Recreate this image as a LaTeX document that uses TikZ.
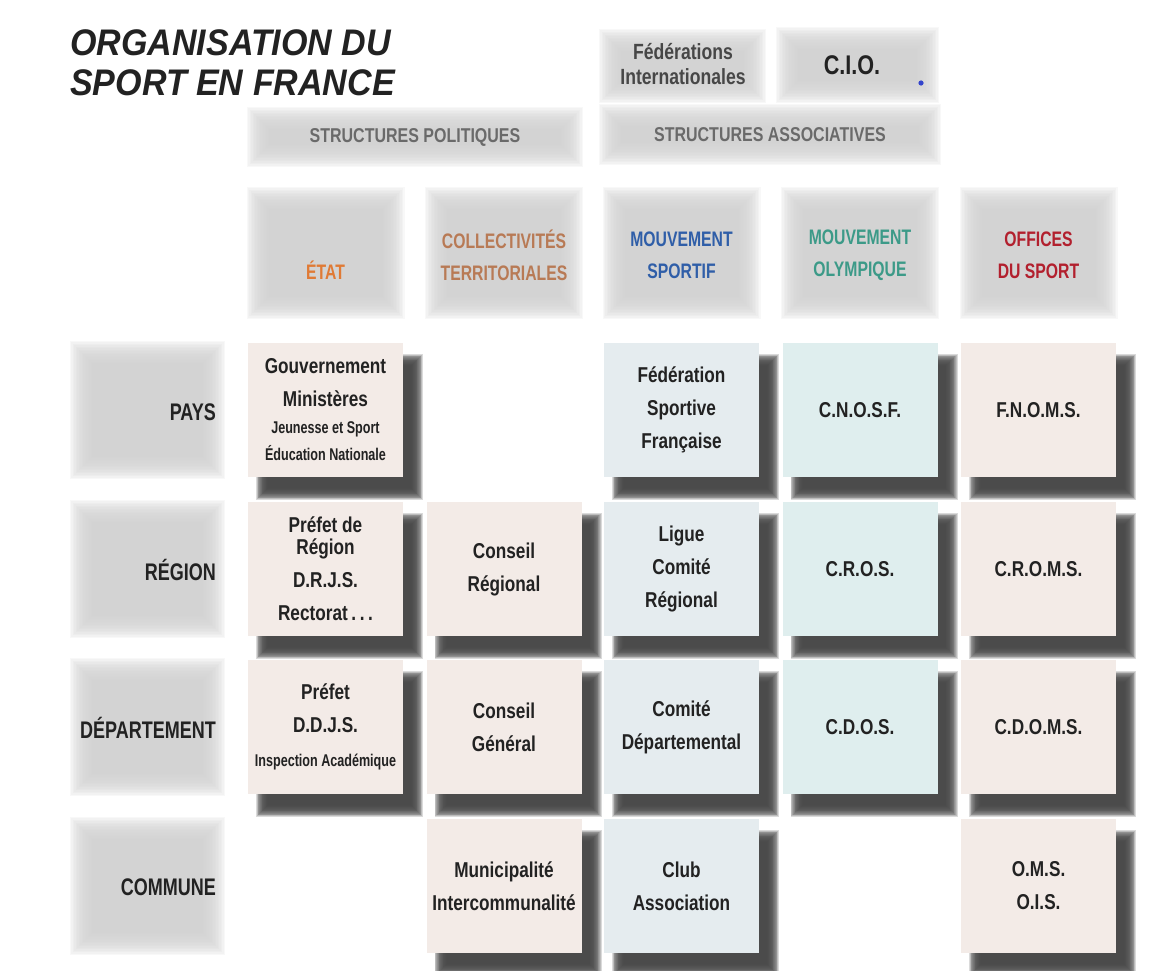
\documentclass[tikz,border=0pt]{standalone}
\usepackage{fontspec}
\setmainfont{Liberation Sans}
\newfontfamily\titlefont[FakeStretch=0.92]{Liberation Sans}
\newfontfamily\cnd[FakeStretch=0.8]{Liberation Sans}
\newfontfamily\cndx[FakeStretch=0.74]{Liberation Sans}
\newfontfamily\cndl[FakeStretch=0.75]{Liberation Sans}
\newcommand{\smalltxt}{\cndx\fontsize{17}{27}\selectfont}

\definecolor{pinkbox}{HTML}{F3EBE7}
\definecolor{bluebox}{HTML}{E5ECEF}
\definecolor{tealbox}{HTML}{DFEEEE}
\definecolor{shadowc}{HTML}{484848}
\definecolor{fogc}{HTML}{D2D2D2}
\definecolor{textdark}{HTML}{222222}
\definecolor{etatc}{HTML}{E07A35}
\definecolor{collc}{HTML}{B87A55}
\definecolor{sportc}{HTML}{2F5EA8}
\definecolor{olympc}{HTML}{3C9A88}
\definecolor{officec}{HTML}{B2202E}
\definecolor{structc}{HTML}{6A6A6A}
\definecolor{dotc}{HTML}{3344CC}

% soft-edged rectangle: x1 y1 x2 y2 colour half-blur opacity-per-layer
\newcommand{\fuzzy}[7]{%
  \foreach \k in {0,...,15}{%
    \pgfmathsetmacro{\blurd}{#6*(1-\k/7.5)}%
    \fill[#5, fill opacity=#7] ({#1-(\blurd)},{#2-(\blurd)}) rectangle ({#3+(\blurd)},{#4+(\blurd)});
  }}
\newcommand{\fog}[4]{\fuzzy{#1}{#2}{#3}{#4}{fogc}{11}{0.14}}
\newcommand{\cell}[5]{%
  \fuzzy{#2-77.5+14}{#3-67+17}{#2+77.5+14}{#3+67+17}{shadowc}{6}{0.2}
  \node[cellbox, fill=#4] (#1) at (#2,#3) {#5};
}

\tikzset{
  cellbox/.style={minimum width=155pt, minimum height=134pt, inner sep=0pt, align=center,
    text=textdark, font=\cnd\bfseries\fontsize{21.5}{33}\selectfont},
  rowlabel/.style={anchor=east, inner sep=0pt, text=textdark, font=\cndl\bfseries\fontsize{24}{28}\selectfont},
  colhead/.style={align=center, inner sep=0pt, font=\cndl\bfseries\fontsize{21}{32}\selectfont},
  structlabel/.style={inner sep=0pt, text=structc, font=\cnd\bfseries\fontsize{20}{24}\selectfont},
}

\begin{document}
\begin{tikzpicture}[x=1pt, y=-1pt]
\useasboundingbox (0,0) rectangle (1164,971);
\fill[white] (0,0) rectangle (1164,971);

% title
\node[anchor=north west, inner sep=0pt, align=left, text=textdark,
  font=\titlefont\bfseries\itshape\fontsize{37}{40}\selectfont] (title) at (70,29)
  {ORGANISATION DU\\SPORT EN FRANCE};

% international
\fog{610}{40}{755}{92}
\node[align=center, inner sep=0pt, text=black!72, font=\cnd\bfseries\fontsize{22}{25}\selectfont] (fi) at (683,64) {Fédérations\\Internationales};
\fog{787}{38}{928}{92}
\node[inner sep=0pt, text=textdark, font=\cnd\bfseries\fontsize{27}{30}\selectfont] (cio) at (852,65) {C.I.O.};
\fill[dotc] (921,83) circle (2.6);

% structures
\fog{258}{118}{572}{156}
\node[structlabel] (spol) at (415,137) {STRUCTURES POLITIQUES};
\fog{610}{115}{930}{154}
\node[structlabel] (sass) at (770,135) {STRUCTURES ASSOCIATIVES};

% column headers
\foreach \cx in {325.5,504,681.5,860,1038.5}{\fog{\cx-68}{198}{\cx+68}{308}}
\node[colhead, text=etatc, anchor=base] (hetat) at (325.5,279) {ÉTAT};
\node[colhead, text=collc] (hcoll) at (504,255) {COLLECTIVITÉS\\TERRITORIALES};
\node[colhead, text=sportc] (hsport) at (681.5,255) {MOUVEMENT\\SPORTIF};
\node[colhead, text=olympc] (holymp) at (860,255) {MOUVEMENT\\OLYMPIQUE};
\node[colhead, text=officec] (hoff) at (1038.5,255) {OFFICES\\DU SPORT};

% row headers
\foreach \cy in {410,569,727,886}{\fog{81}{\cy-58}{214}{\cy+58}}
\node[rowlabel] (lpays) at (216,412) {PAYS};
\node[rowlabel] (lregion) at (216,570) {RÉGION};
\node[rowlabel] (ldep) at (216,728) {DÉPARTEMENT};
\node[rowlabel] (lcom) at (216,887) {COMMUNE};

% cells - Etat
\cell{gouv}{325.5}{410}{pinkbox}{Gouvernement\\Ministères\\[-6pt]{\smalltxt Jeunesse et Sport}\\[-6pt]{\smalltxt Éducation Nationale}}
\cell{prefreg}{325.5}{569}{pinkbox}{Préfet de\\[-11pt]Région\\D.R.J.S.\\Rectorat\,.\,.\,.}
\cell{prefet}{325.5}{727}{pinkbox}{Préfet\\D.D.J.S.\\[1pt]{\smalltxt Inspection Académique}}
% Collectivites
\cell{consreg}{504}{569}{pinkbox}{Conseil\\Régional}
\cell{consgen}{504}{727}{pinkbox}{Conseil\\Général}
\cell{munic}{504}{886}{pinkbox}{Municipalité\\Intercommunalité}
% Mouvement sportif
\cell{ffs}{681.5}{410}{bluebox}{Fédération\\Sportive\\Française}
\cell{ligue}{681.5}{569}{bluebox}{Ligue\\Comité\\Régional}
\cell{comdep}{681.5}{727}{bluebox}{Comité\\Départemental}
\cell{club}{681.5}{886}{bluebox}{Club\\Association}
% Mouvement olympique
\cell{cnosf}{860}{410}{tealbox}{C.N.O.S.F.}
\cell{cros}{860}{569}{tealbox}{C.R.O.S.}
\cell{cdos}{860}{727}{tealbox}{C.D.O.S.}
% Offices
\cell{fnoms}{1038.5}{410}{pinkbox}{F.N.O.M.S.}
\cell{croms}{1038.5}{569}{pinkbox}{C.R.O.M.S.}
\cell{cdoms}{1038.5}{727}{pinkbox}{C.D.O.M.S.}
\cell{oms}{1038.5}{886}{pinkbox}{O.M.S.\\O.I.S.}
\end{tikzpicture}
\end{document}
